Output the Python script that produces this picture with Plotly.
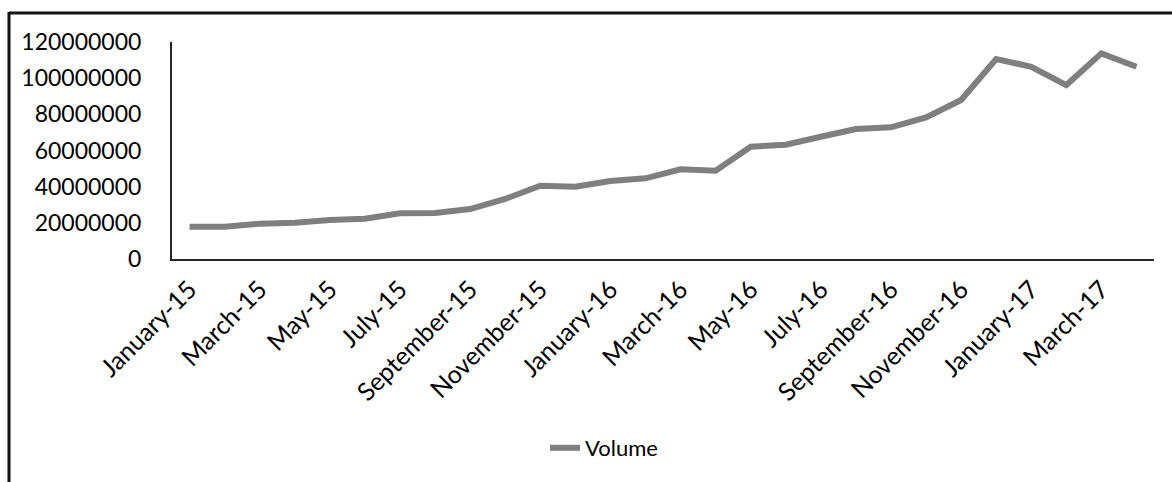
import plotly.graph_objects as go

months = ["January-15", "February-15", "March-15", "April-15", "May-15", "June-15",
          "July-15", "August-15", "September-15", "October-15", "November-15", "December-15",
          "January-16", "February-16", "March-16", "April-16", "May-16", "June-16",
          "July-16", "August-16", "September-16", "October-16", "November-16", "December-16",
          "January-17", "February-17", "March-17", "April-17"]
volume = [17900000, 17900000, 19500000, 20000000, 21500000, 22300000,
          25300000, 25500000, 27600000, 33200000, 40500000, 40000000,
          43100000, 44600000, 49600000, 48800000, 62100000, 63200000,
          67600000, 71900000, 72800000, 78300000, 87900000, 110600000,
          106300000, 96200000, 113700000, 106300000]
tick_labels = months[::2]
y_ticks = [0, 20000000, 40000000, 60000000, 80000000, 100000000, 120000000]

W, H = 1172, 482
L, R, T, B = 172, 18, 42, 223
pw, ph = W - L - R, H - T - B

def px(x):
    return (x - L) / pw

def py(y):
    return (H - B - y) / ph

fig = go.Figure()
fig.add_trace(go.Scatter(
    x=months, y=volume, mode="lines", name="Volume",
    line=dict(color="#7f7f7f", width=6),
))

fig.update_layout(
    width=W, height=H,
    margin=dict(l=L, r=R, t=T, b=B, pad=0),
    paper_bgcolor="white", plot_bgcolor="white",
    font=dict(family="Lato, Carlito, sans-serif", size=23, color="#000000"),
    showlegend=True,
    legend=dict(orientation="h", x=px(604), xanchor="center", y=py(448), yanchor="middle",
                font=dict(size=22), bgcolor="rgba(0,0,0,0)"),
    xaxis=dict(
        type="category", categoryorder="array", categoryarray=months,
        range=[-0.5, len(months) - 0.5],
        tickmode="array", tickvals=tick_labels, ticktext=tick_labels,
        tickangle=-45, showgrid=False, zeroline=False,
        showline=True, linecolor="#262626", linewidth=2, ticks="",
        ticklabelstandoff=4, tickfont=dict(size=25),
    ),
    yaxis=dict(
        range=[0, 120000000], tickmode="array", tickvals=y_ticks,
        ticktext=[str(v) for v in y_ticks],
        showgrid=False, zeroline=False,
        showline=True, linecolor="#262626", linewidth=2, ticks="",
        ticklabelstandoff=24,
    ),
)

fig.add_shape(type="line", xref="paper", yref="paper",
              x0=px(9), x1=px(W), y0=py(13), y1=py(13),
              line=dict(color="#111111", width=3))
fig.add_shape(type="line", xref="paper", yref="paper",
              x0=px(9), x1=px(9), y0=py(12), y1=py(H + 5),
              line=dict(color="#111111", width=3))

fig.write_html("out.html")
